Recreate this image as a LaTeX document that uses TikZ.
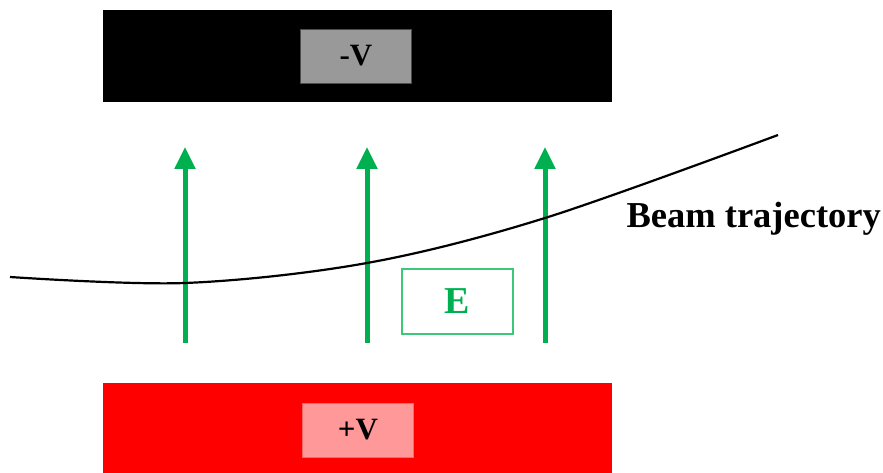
\documentclass[tikz,border=0pt]{standalone}
\usepackage{fontspec}
\setmainfont{Liberation Serif}
\usepackage{tikz}
\usetikzlibrary{arrows.meta, positioning}

\definecolor{campo}{HTML}{00B050}
\definecolor{campoclaro}{HTML}{3CC878}
\definecolor{gris}{HTML}{999999}
\definecolor{rosa}{HTML}{FF9999}

\begin{document}
\begin{tikzpicture}[x=1pt, y=-1pt,
    placa/.style={draw=none, minimum width=509pt, minimum height=92pt, inner sep=0pt},
    etiq/.style={minimum width=111pt, minimum height=54pt, inner sep=0pt,
                 font=\fontsize{31}{33}\selectfont\bfseries},
    flecha/.style={-{Triangle[width=20pt, length=22pt]}, line width=5pt, draw=campo},
]
\useasboundingbox (0,0) rectangle (883,473);
%% Placas: negativa arriba, positiva abajo
\node[placa, fill=black, anchor=north west] at (103, 10)  (neg) {};
\node[placa, fill=red, minimum height=90pt, anchor=north west] at (103, 383) (pos) {};
\node[etiq, fill=gris, draw=black!70, line width=0.8pt] at (356, 56)  (vneg) {-V};
\node[etiq, fill=rosa, draw=red!60, line width=0.8pt]   at (358, 430) (vpos) {+V};

%% Campo electrico
\foreach \x/\n in {185/a, 367/b, 545/c}
    \draw[flecha] (\x, 343) coordinate (\n0) -- (\x, 147) coordinate (\n1);
\node[draw=campoclaro, line width=2pt, minimum width=111pt, minimum height=65pt,
      text=campo, font=\fontsize{38}{40}\selectfont\bfseries] at (457, 301) (campoE) {E};

%% Trayectoria del haz
\draw[line width=2.2pt] plot[smooth, tension=0.55] coordinates
    {(10,277) (185,283) (367,263) (545,218) (778,135)};
\node[font=\fontsize{36.5}{38}\selectfont\bfseries, anchor=base west] at (623, 227) (haz) {Beam trajectory};
\end{tikzpicture}
\end{document}
